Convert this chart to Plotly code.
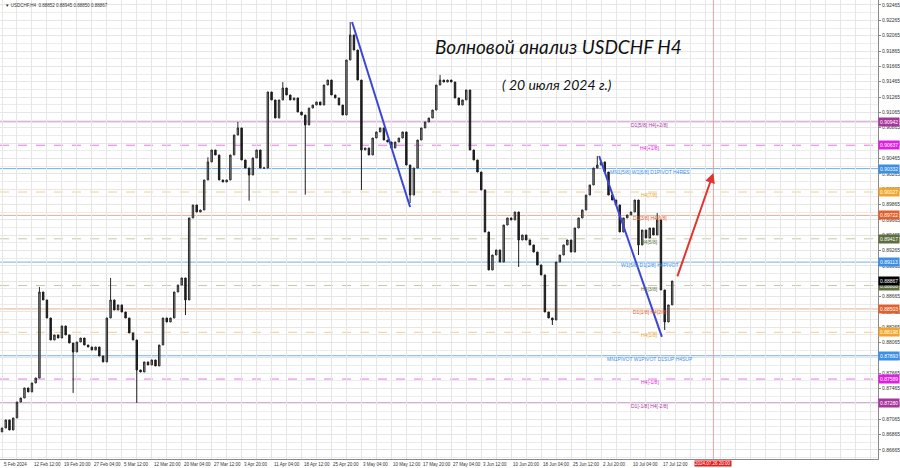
import plotly.graph_objects as go

# ---------------- data ----------------
symbol_header = "USDCHF,H4  0.88852 0.88945 0.88850 0.88867"
title_main = "Волновой анализ USDCHF H4"
title_date = "( 20 июля 2024 г.)"

first_open = 0.86900
# closes of consecutive 4-bar (16h) groups of H4 candles, 5 Feb .. 19 Jul 2024
closes = [
    0.86951, 0.87056, 0.86925, 0.87082, 0.87290, 0.87342, 0.87473, 0.87421, 0.87538, 0.87603,
    0.88724, 0.88620, 0.88385, 0.88098, 0.88164, 0.88124, 0.88281, 0.88164, 0.88059, 0.87942,
    0.88072, 0.88124, 0.88033, 0.88007, 0.87968, 0.88007, 0.87890, 0.87812, 0.88385, 0.88620,
    0.88489, 0.88555, 0.88463, 0.88385, 0.88190, 0.88098, 0.87707, 0.87681, 0.87812, 0.87773,
    0.87838, 0.87760, 0.88033, 0.88385, 0.88333, 0.88385, 0.88724, 0.88815, 0.88907, 0.88620,
    0.89689, 0.89858, 0.89767, 0.89793, 0.90184, 0.90419, 0.90575, 0.90510, 0.90184, 0.90158,
    0.90184, 0.90510, 0.90770, 0.90862, 0.90445, 0.90340, 0.90249, 0.90471, 0.90575, 0.90340,
    0.90340, 0.91331, 0.91227, 0.90992, 0.91227, 0.91383, 0.91292, 0.91227, 0.91253, 0.91070,
    0.91031, 0.90901, 0.91122, 0.91161, 0.91201, 0.91161, 0.91422, 0.91487, 0.91292, 0.91253,
    0.91161, 0.91031, 0.91748, 0.92074, 0.91878, 0.91487, 0.90575, 0.90601, 0.90510, 0.90731,
    0.90810, 0.90862, 0.90705, 0.90679, 0.90601, 0.90679, 0.90731, 0.90810, 0.90379, 0.89988,
    0.90340, 0.90705, 0.90862, 0.90940, 0.90992, 0.91096, 0.91422, 0.91487, 0.91461, 0.91487,
    0.91461, 0.91253, 0.91161, 0.91227, 0.91357, 0.90575, 0.90445, 0.90288, 0.90054, 0.89506,
    0.89011, 0.89206, 0.89272, 0.89115, 0.89597, 0.89689, 0.89663, 0.89767, 0.89402, 0.89467,
    0.89402, 0.89337, 0.89245, 0.89076, 0.88946, 0.88463, 0.88385, 0.88359, 0.89115, 0.89206,
    0.89337, 0.89402, 0.89245, 0.89558, 0.89689, 0.89793, 0.89988, 0.90119, 0.90340, 0.90379,
    0.90419, 0.90288, 0.89988, 0.89923, 0.89858, 0.89506, 0.89689, 0.89728, 0.89767, 0.89923,
    0.89337, 0.89532, 0.89428, 0.89558, 0.89467, 0.89663, 0.88750, 0.88333, 0.88555, 0.88867,
]
# notable wick extremes: group index -> price
wick_highs = {10: 0.88789, 29: 0.88907, 55: 0.90480, 63: 0.90940, 75: 0.91461,
              93: 0.92243, 117: 0.91553, 159: 0.90497, 175: 0.89754}
wick_lows = {19: 0.87408, 36: 0.87277, 49: 0.88424, 66: 0.89914, 81: 0.89993,
             96: 0.90054, 109: 0.89884, 138: 0.89050, 147: 0.88294, 170: 0.89206,
             177: 0.88229}

bars_per_group = 4
time_labels = ["5 Feb 2024", "12 Feb 12:00", "19 Feb 20:00", "27 Feb 04:00", "5 Mar 12:00",
               "12 Mar 20:00", "20 Mar 04:00", "27 Mar 12:00", "3 Apr 20:00", "11 Apr 04:00",
               "18 Apr 12:00", "25 Apr 20:00", "3 May 04:00", "10 May 12:00", "17 May 20:00",
               "27 May 04:00", "3 Jun 12:00", "10 Jun 20:00", "18 Jun 04:00", "25 Jun 12:00",
               "2 Jul 20:00", "10 Jul 04:00", "17 Jul 12:00"]
bars_per_label = 32
future_label = "2024.07.26 20:00"
future_bar = 760

price_ticks = [0.86665 + 0.002 * k for k in range(30)]

# Murrey-style levels: (price, text, line colour, box colour, dash)
levels = [
    (0.90942, "D1[5/8] H4[+2/8]", "#cf8fcf", "#a8359c", "solid"),
    (0.90637, "H4[+1/8]", "#e27ae2", "#e21ee2", "dash"),
    (0.90332, "MN1[5/8] W1[6/8] D1PIVOT H4RES", "#72b0ea", "#3b8fe6", "solid"),
    (0.90027, "H4[7/8]", "#f2cf8a", "#f2a52a", "dash"),
    (0.89722, "D1[3/8] H4[6/8]", "#eab08e", "#e2602a", "solid"),
    (0.89417, "H4[5/8]", "#c8c8a8", "#5e6e3e", "dash"),
    (0.89113, "W1[5/8] D1[2/8] H4PIVOT", "#72b0ea", "#3b8fe6", "solid"),
    (0.88808, "H4[3/8]", "#c8c8a8", "#5e6e3e", "dash"),
    (0.88503, "D1[1/8] H4[2/8]", "#eab08e", "#e2602a", "solid"),
    (0.88198, "H4[1/8]", "#f2cf8a", "#f2a52a", "dash"),
    (0.87893, "MN1PIVOT W1PIVOT D1SUP H4SUP", "#72b0ea", "#3b8fe6", "solid"),
    (0.87589, "H4[-1/8]", "#e27ae2", "#e21ee2", "dash"),
    (0.87280, "D1[-1/8] H4[-2/8]", "#cf8fcf", "#a8359c", "solid"),
]
level_text_bar = 692
current_price = 0.88867

# wave drawings: (bar0, price0, bar1, price1)
blue_waves = [(374, 0.92243, 436, 0.89832), (638, 0.90497, 705, 0.88138)]
red_forecast = (721, 0.88907, 760, 0.90275)

# ---------------- build ----------------
n = len(closes)
xs = [bars_per_group * j for j in range(n)]
opens = [first_open] + closes[:-1]
highs = [max(o, c) for o, c in zip(opens, closes)]
lows = [min(o, c) for o, c in zip(opens, closes)]
for j, v in wick_highs.items():
    highs[j] = max(highs[j], v)
for j, v in wick_lows.items():
    lows[j] = min(lows[j], v)

fig = go.Figure()
fig.add_trace(go.Candlestick(
    x=xs, open=opens, high=highs, low=lows, close=closes,
    increasing=dict(line=dict(color="#2a2a2a", width=1), fillcolor="#9a9a9a"),
    decreasing=dict(line=dict(color="#1c1c1c", width=1), fillcolor="#1c1c1c"),
    whiskerwidth=0, showlegend=False, hoverinfo="skip",
))

shapes = []
annotations = []
for price, text, lc, bc, dash in levels:
    shapes.append(dict(type="line", xref="paper", x0=0, x1=1, yref="y", y0=price, y1=price,
                       line=dict(color=lc, width=1, dash=dash), layer="below"))
    annotations.append(dict(x=level_text_bar, y=price, xref="x", yref="y", text=text,
                            showarrow=False, yshift=-3,
                            font=dict(size=5, color=bc, family="Liberation Sans")))
    annotations.append(dict(x=1, y=price, xref="paper", yref="y", text=f"{price:.5f}",
                            xanchor="left", showarrow=False, bgcolor=bc, borderpad=1,
                            font=dict(size=5, color="#ffffff", family="Liberation Sans")))
annotations.append(dict(x=1, y=current_price, xref="paper", yref="y", text=f"{current_price:.5f}",
                        xanchor="left", showarrow=False, bgcolor="#000000", borderpad=1,
                        font=dict(size=5, color="#ffffff", family="Liberation Sans")))

# future vertical line
shapes.append(dict(type="line", x0=future_bar, x1=future_bar, xref="x", yref="paper", y0=0, y1=1,
                   line=dict(color="#dba4a4", width=1)))
for b0, p0, b1, p1 in blue_waves:
    shapes.append(dict(type="line", x0=b0, x1=b1, y0=p0, y1=p1, xref="x", yref="y",
                       line=dict(color="#3a46d8", width=2)))
b0, p0, b1, p1 = red_forecast
annotations.append(dict(x=b1, y=p1, ax=b0, ay=p0, xref="x", yref="y", axref="x", ayref="y",
                        showarrow=True, arrowhead=2, arrowsize=1, arrowwidth=2,
                        arrowcolor="#e3342f", text=""))

# time labels
for k, t in enumerate(time_labels):
    annotations.append(dict(x=k * bars_per_label, y=0, xref="x", yref="paper", yanchor="top",
                            xanchor="left", text=t, showarrow=False, yshift=-1,
                            font=dict(size=4.5, color="#333333", family="Liberation Sans")))
annotations.append(dict(x=future_bar, y=0, xref="x", yref="paper", yanchor="top",
                        xanchor="center", text=future_label, showarrow=False, yshift=-1,
                        bgcolor="#e31e1e", borderpad=0,
                        font=dict(size=4.5, color="#ffffff", family="Liberation Sans")))

# header and titles
annotations.append(dict(x=0.003, y=0.997, xref="paper", yref="paper", xanchor="left", yanchor="top",
                        text="▼ " + symbol_header, showarrow=False,
                        font=dict(size=4.5, color="#333333", family="Liberation Sans")))
annotations.append(dict(x=558 / 878, y=1 - 33 / 459, xref="paper", yref="paper",
                        text=title_main, showarrow=False,
                        font=dict(size=19, color="#111111", family="Lato", style="italic")))
annotations.append(dict(x=557 / 878, y=1 - 74 / 459, xref="paper", yref="paper",
                        text=title_date, showarrow=False,
                        font=dict(size=14, color="#111111", family="Lato", style="italic")))

px_per_bar = 0.936
fig.update_layout(
    width=900, height=468,
    margin=dict(l=0, r=22, t=0, b=9),
    paper_bgcolor="#ffffff", plot_bgcolor="#ffffff",
    boxgap=0.45,
    shapes=shapes, annotations=annotations, showlegend=False,
    xaxis=dict(range=[-2 / px_per_bar, 876 / px_per_bar], rangeslider=dict(visible=False),
               showticklabels=False, tick0=0, dtick=16, showgrid=True, gridcolor="#e6e6e6",
               gridwidth=1, zeroline=False, showline=True, mirror=True, linecolor="#8a8a8a",
               ticks=""),
    yaxis=dict(range=[0.86547, 0.92530], side="right", tickvals=price_ticks,
               ticktext=[f"{v:.5f}" for v in price_ticks], automargin=False,
               tickfont=dict(size=5, color="#333333", family="Liberation Sans"),
               showgrid=True, gridcolor="#e6e6e6", zeroline=False, showline=True, mirror=True,
               linecolor="#8a8a8a", ticks="outside", ticklen=2, tickcolor="#8a8a8a",
               minor=dict(dtick=0.001, tick0=0.86665, showgrid=True, gridcolor="#ececec")),
)

fig.write_html("out.html", config={"displayModeBar": False},
               post_script="document.body.style.margin='0';document.body.style.padding='0';")
